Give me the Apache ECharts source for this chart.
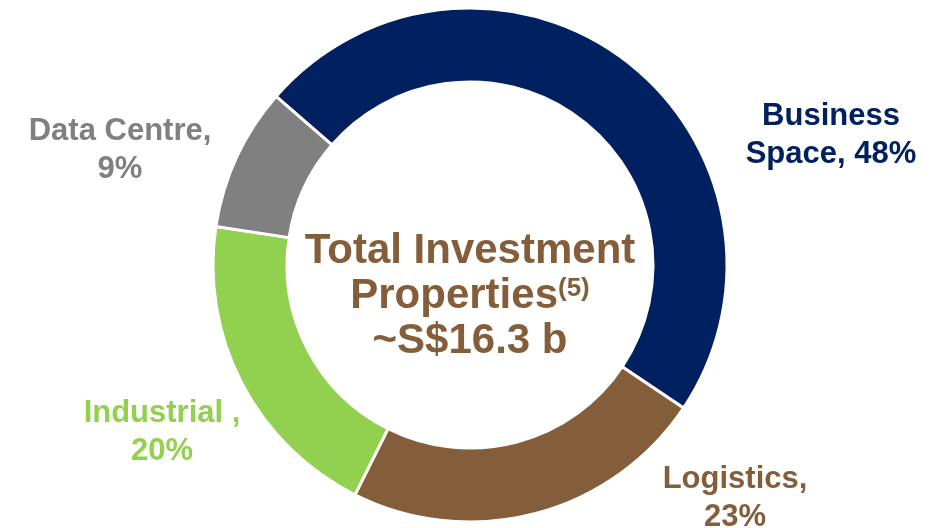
<!DOCTYPE html>
<html>
<head>
<meta charset="utf-8">
<script src="https://cdn.jsdelivr.net/npm/echarts@6/dist/echarts.min.js"></script>
<style>
  html, body { margin: 0; padding: 0; background: #fff; }
  #main { width: 935px; height: 528px; }
</style>
</head>
<body>
<div id="main"></div>
<script>
// portfolio split by segment, %
var categories = ['Business\nSpace', 'Logistics', 'Industrial ', 'Data Centre'];
var shares = [48, 23, 20, 9];
var colors = ['#002060', '#845E3A', '#92D050', '#808080'];
// where each outside label sits (centre of the text block)
var labelPos = [[831, 135], [735, 498], [162, 432], [120, 150]];

var brown = '#845E3A';
var font = '"Liberation Sans", Arial, sans-serif';

var chart = echarts.init(document.getElementById('main'));

var option = {
  animation: false,
  graphic: [
    {
      type: 'text',
      x: 470,
      y: 296,
      style: {
        text: '{a|Total Investment}\n{a|Properties}{s|(5)}\n{a|~S$16.3 b}',
        align: 'center',
        verticalAlign: 'middle',
        rich: {
          a: { fontSize: 42, fontWeight: 'bold', fontFamily: font, fill: brown, lineHeight: 45 },
          s: { fontSize: 26, fontWeight: 'bold', fontFamily: font, fill: brown, lineHeight: 45, verticalAlign: 'top', padding: [2, 0, 0, 0] }
        }
      }
    }
  ],
  series: [
    {
      type: 'pie',
      center: [470, 265],
      radius: [183, 257],
      startAngle: 139,
      avoidLabelOverlap: false,
      itemStyle: { borderColor: '#fff', borderWidth: 3 },
      label: {
        show: true,
        position: 'outside',
        fontSize: 31,
        fontWeight: 'bold',
        fontFamily: font,
        lineHeight: 38,
        align: 'center',
        formatter: function (p) {
          var sep = p.name.indexOf('\n') >= 0 ? ', ' : ',\n';
          return p.name + sep + p.value + '%';
        }
      },
      labelLine: { show: false },
      labelLayout: function (params) {
        var pos = labelPos[params.dataIndex];
        return { x: pos[0], y: pos[1], align: 'center', verticalAlign: 'middle' };
      },
      emphasis: { disabled: true },
      data: categories.map(function (name, i) {
        return {
          name: name,
          value: shares[i],
          itemStyle: { color: colors[i] },
          label: { color: colors[i] }
        };
      })
    }
  ]
};

chart.setOption(option);
</script>
</body>
</html>
